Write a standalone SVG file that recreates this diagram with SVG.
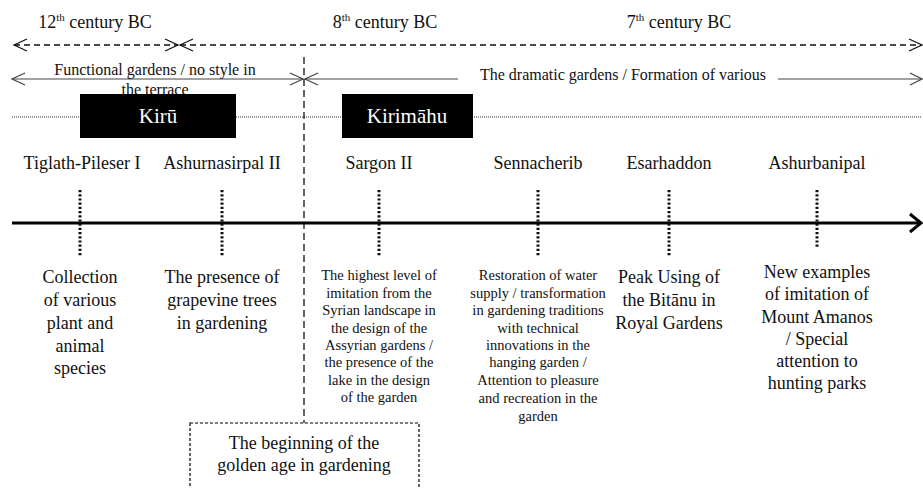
<svg xmlns="http://www.w3.org/2000/svg" width="923" height="488" viewBox="0 0 923 488">
<style>
text{font-family:"Liberation Serif","Times New Roman",serif;fill:#111;text-anchor:middle}
.h{font-size:18px}
.n{font-size:18px}
.d{font-size:18px}
.s{font-size:14.5px}
.m{font-size:16px}
.k{font-size:21px;fill:#fff}
.tick{stroke:#111;stroke-width:3;stroke-dasharray:2.2 2}
.chev{fill:none;stroke:#111;stroke-width:1.2}
.chevg{fill:none;stroke:#444;stroke-width:1.2}
</style>
<rect width="923" height="488" fill="#fff"/>
<g id="connectors">
  <line x1="14" y1="45" x2="178" y2="45" stroke="#111" stroke-width="1.3" stroke-dasharray="6 4"/>
  <line x1="180" y1="45" x2="921" y2="45" stroke="#111" stroke-width="1.3" stroke-dasharray="6 4"/>
  <path class="chev" d="M27,39 L14,45 L27,51"/>
  <path class="chev" d="M165,39 L178,45 L165,51"/>
  <path class="chev" d="M193,39 L180,45 L193,51"/>
  <path class="chev" d="M909,39 L922,45 L909,51"/>
  <line x1="12" y1="79" x2="303" y2="79" stroke="#444" stroke-width="1.2"/>
  <line x1="305" y1="79" x2="458" y2="79" stroke="#444" stroke-width="1.2"/>
  <line x1="778" y1="79" x2="921" y2="79" stroke="#444" stroke-width="1.2"/>
  <path class="chevg" d="M25,73 L12,79 L25,85"/>
  <path class="chevg" d="M290,73 L303,79 L290,85"/>
  <path class="chevg" d="M318,73 L305,79 L318,85"/>
  <path class="chevg" d="M910,73 L922,79 L910,85"/>
  <line x1="12" y1="117" x2="921" y2="117" stroke="#333" stroke-width="1" stroke-dasharray="1 1"/>
  <line x1="304" y1="57" x2="304" y2="423" stroke="#111" stroke-width="1.3" stroke-dasharray="7 4"/>
  <line x1="12" y1="223" x2="920" y2="223" stroke="#000" stroke-width="3"/>
  <path d="M910,214 L921,223 L910,232" fill="none" stroke="#000" stroke-width="3"/>
  <line class="tick" x1="80" y1="190" x2="80" y2="257"/>
  <line class="tick" x1="222" y1="190" x2="222" y2="257"/>
  <line class="tick" x1="379" y1="190" x2="379" y2="257"/>
  <line class="tick" x1="538" y1="190" x2="538" y2="257"/>
  <line class="tick" x1="669" y1="190" x2="669" y2="257"/>
  <line class="tick" x1="817" y1="190" x2="817" y2="248"/>
</g>
<g id="centuries">
  <text class="h" x="95" y="28">12<tspan font-size="11" dy="-7">th</tspan><tspan dy="7"> century BC</tspan></text>
  <text class="h" x="385" y="28">8<tspan font-size="11" dy="-7">th</tspan><tspan dy="7"> century BC</tspan></text>
  <text class="h" x="679" y="28">7<tspan font-size="11" dy="-7">th</tspan><tspan dy="7"> century BC</tspan></text>
</g>
<g id="styles">
  <text class="m" x="155" y="75">Functional gardens / no style in</text>
  <text class="m" x="155" y="95">the terrace</text>
  <text class="m" x="623" y="80">The dramatic gardens / Formation of various</text>
</g>
<g id="kiru">
  <rect x="80" y="94" width="156" height="44" fill="#000"/>
  <text class="k" x="158" y="123">Kirū</text>
</g>
<g id="kirimahu">
  <rect x="342" y="94" width="131" height="44" fill="#000"/>
  <text class="k" x="407" y="123">Kirimāhu</text>
</g>
<g id="tiglath">
  <text class="n" x="82" y="169">Tiglath-Pileser I</text>
  <text class="d" x="80"><tspan x="80" y="283">Collection</tspan><tspan x="80" y="306">of various</tspan><tspan x="80" y="329">plant and</tspan><tspan x="80" y="352">animal</tspan><tspan x="80" y="374">species</tspan></text>
</g>
<g id="ashurnasirpal">
  <text class="n" x="222" y="169">Ashurnasirpal II</text>
  <text class="d" x="222"><tspan x="222" y="283">The presence of</tspan><tspan x="222" y="306">grapevine trees</tspan><tspan x="222" y="329">in gardening</tspan></text>
</g>
<g id="sargon">
  <text class="n" x="379" y="169">Sargon II</text>
  <text class="s" x="379"><tspan x="379" y="280">The highest level of</tspan><tspan x="379" y="298">imitation from the</tspan><tspan x="379" y="315">Syrian landscape in</tspan><tspan x="379" y="333">the design of the</tspan><tspan x="379" y="350">Assyrian gardens /</tspan><tspan x="379" y="367">the presence of the</tspan><tspan x="379" y="385">lake in the design</tspan><tspan x="379" y="402">of the garden</tspan></text>
</g>
<g id="sennacherib">
  <text class="n" x="538" y="169">Sennacherib</text>
  <text class="s" x="538"><tspan x="538" y="280">Restoration of water</tspan><tspan x="538" y="298">supply / transformation</tspan><tspan x="538" y="315">in gardening traditions</tspan><tspan x="538" y="333">with technical</tspan><tspan x="538" y="350">innovations in the</tspan><tspan x="538" y="367">hanging garden /</tspan><tspan x="538" y="385">Attention to pleasure</tspan><tspan x="538" y="403">and recreation in the</tspan><tspan x="538" y="421">garden</tspan></text>
</g>
<g id="esarhaddon">
  <text class="n" x="669" y="169">Esarhaddon</text>
  <text class="d" x="669"><tspan x="669" y="283">Peak Using of</tspan><tspan x="669" y="306">the Bitānu in</tspan><tspan x="669" y="329">Royal Gardens</tspan></text>
</g>
<g id="ashurbanipal">
  <text class="n" x="817" y="169">Ashurbanipal</text>
  <text class="d" x="817"><tspan x="817" y="278">New examples</tspan><tspan x="817" y="300">of imitation of</tspan><tspan x="817" y="323">Mount Amanos</tspan><tspan x="817" y="345">/ Special</tspan><tspan x="817" y="367">attention to</tspan><tspan x="817" y="389">hunting parks</tspan></text>
</g>
<g id="golden-age">
  <rect x="190" y="423" width="229" height="80" fill="none" stroke="#000" stroke-width="1.2" stroke-dasharray="3 2"/>
  <text class="d" x="304"><tspan x="304" y="449">The beginning of the</tspan><tspan x="304" y="471">golden age in gardening</tspan></text>
</g>
</svg>
